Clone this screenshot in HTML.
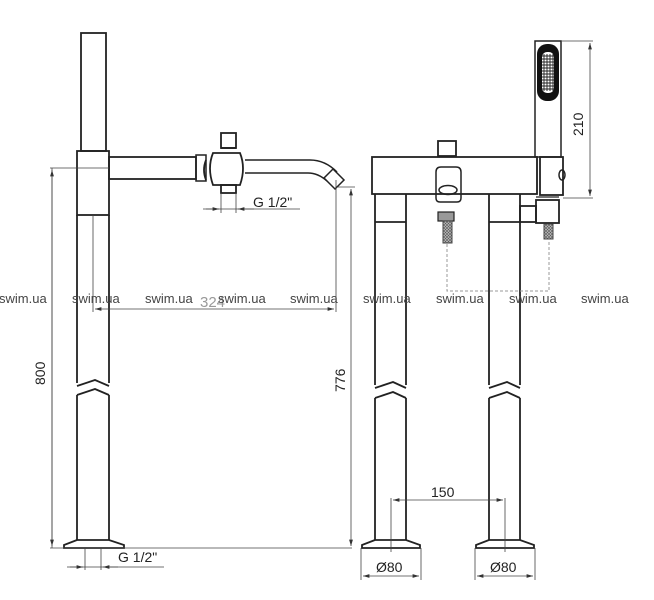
<!DOCTYPE html>
<html><head><meta charset="utf-8"><style>
html,body{margin:0;padding:0;background:#fff;width:654px;height:600px;overflow:hidden}
svg{display:block}
text{font-family:"Liberation Sans",sans-serif}
</style></head><body>
<svg width="654" height="600" viewBox="0 0 654 600" xmlns="http://www.w3.org/2000/svg">
<defs>
<marker id="a" viewBox="0 0 10 6" refX="10" refY="3" markerWidth="8" markerHeight="5" orient="auto-start-reverse"><path d="M0,0 L10,3 L0,6 z" fill="#333"/></marker>
<pattern id="h" width="3" height="3" patternUnits="userSpaceOnUse"><rect width="3" height="3" fill="#bbb"/><path d="M0,0L3,3M3,0L0,3" stroke="#555" stroke-width="0.6"/></pattern>
</defs>
<g fill="none" stroke="#222" stroke-width="1.8">
<rect x="81" y="33" width="25" height="118"/>
<rect x="77" y="151" width="32" height="64"/>
<path d="M77,215 V383 M109,215 V383"/>
<path d="M77,386 L95,380 L109,386 M77,395 L95,389 L109,395"/>
<path d="M77,395 V540 M109,395 V540"/>
<path d="M77,540 L64,545 L64,548 L124,548 L124,545 L109,540 Z"/>
<rect x="109" y="157" width="87" height="22"/>
<path d="M196,155 h10 v26 h-10 z" stroke-width="1.5"/>
<path d="M206,160 q-4,10 0,20"/>
<path d="M213,153 Q207,168 213,185 L240,185 Q246,168 240,153 Z"/>
<rect x="221" y="133" width="15" height="15"/>
<path d="M221,148 h15"/>
<rect x="221" y="185" width="15" height="8"/>
<path d="M245,160 H310 Q325,160 337,172 M245,173 H308 Q318,173 327,181" stroke-width="1.5"/>
<path d="M333,169 L344,180 L335,189 L324,178 Z" stroke-width="1.5"/>
<rect x="372" y="157" width="165" height="37"/>
<rect x="438" y="141" width="18" height="15"/>
<path d="M436,172 q0,-5 5,-5 h15 q5,0 5,5 v26 q0,4 -4,4 h-17 q-4,0 -4,-4 z" stroke-width="1.5"/>
<ellipse cx="448" cy="190" rx="9" ry="4.5" stroke-width="1.5"/>
<rect x="535" y="41" width="26" height="116" stroke-width="1.5"/>
<rect x="540" y="157" width="23" height="38"/>
<ellipse cx="562" cy="175" rx="3" ry="5" stroke-width="1.5"/>
<path d="M537,159 V193" stroke-width="1.2"/>
<rect x="536" y="200" width="23" height="23"/>
<rect x="520" y="206" width="16" height="16"/>
<path d="M536,197 h23" stroke-width="1.2"/>
<path d="M375,194 V385 M406,194 V385 M375,222 H406"/>
<path d="M375,388 L393,382 L406,388 M375,398 L393,392 L406,398"/>
<path d="M375,398 V540 M406,398 V540"/>
<path d="M375,540 L362,545 L362,548 L420,548 L420,545 L406,540 Z"/>
<path d="M489,194 V385 M520,194 V385 M489,222 H520"/>
<path d="M489,388 L507,382 L520,388 M489,398 L507,392 L520,398"/>
<path d="M489,398 V540 M520,398 V540"/>
<path d="M489,540 L476,545 L476,548 L534,548 L534,545 L520,540 Z"/>
<rect x="438" y="212" width="16" height="9" fill="#999" stroke-width="1.2"/>
</g>
<rect x="537" y="44" width="22" height="57" rx="10" fill="#111"/>
<rect x="542" y="52" width="12" height="41" rx="5" fill="#fff"/>
<path d="M544,54V91M547,54V91M550,54V91M553,54V91M542,56H554M542,59H554M542,62H554M542,65H554M542,68H554M542,71H554M542,74H554M542,77H554M542,80H554M542,83H554M542,86H554M542,89H554" stroke="#222" stroke-width="0.9"/>
<rect x="443" y="221" width="9" height="22" fill="url(#h)" stroke="#444"/>
<rect x="544" y="224" width="9" height="15" fill="url(#h)" stroke="#444"/>
<path d="M447,244 V291 H549 V240" fill="none" stroke="#999" stroke-dasharray="3,2"/>
<g stroke="#444" stroke-width="0.8" fill="none">
<path d="M50,168 H109 M52,168 V548" />
<path d="M52,170 V546" marker-start="url(#a)" marker-end="url(#a)"/>
<path d="M50,548 H352"/>
<path d="M93,215 V312 M336,180 V312"/>
<path d="M95,309 H334" marker-start="url(#a)" marker-end="url(#a)"/>
<path d="M338,187 H355"/>
<path d="M351,189 V546" marker-start="url(#a)" marker-end="url(#a)"/>
<path d="M221,193 V213 M236,193 V213 M203,209 H300"/>
<path d="M206,209 H219" marker-end="url(#a)"/><path d="M254,209 H238" marker-end="url(#a)"/>
<path d="M85,548 V570 M101,548 V570 M67,567 H164"/>
<path d="M70,567 H83" marker-end="url(#a)"/><path d="M118,567 H103" marker-end="url(#a)"/>
<path d="M561,41 H593 M563,198 H593"/>
<path d="M590,43 V196" marker-start="url(#a)" marker-end="url(#a)"/>
<path d="M391,498 V552 M505,498 V552"/>
<path d="M393,500 H503" marker-start="url(#a)" marker-end="url(#a)"/>
<path d="M361,548 V580 M421,548 V580 M475,548 V580 M535,548 V580"/>
<path d="M363,576 H419" marker-start="url(#a)" marker-end="url(#a)"/>
<path d="M477,576 H533" marker-start="url(#a)" marker-end="url(#a)"/>
</g>
<g fill="#222" font-size="14">
<text x="253" y="207">G 1/2"</text>
<text x="118" y="562">G 1/2"</text>
<text x="431" y="497">150</text>
<text x="376" y="572">Ø80</text>
<text x="490" y="572">Ø80</text>
<text transform="translate(45,385) rotate(-90)">800</text>
<text transform="translate(345,392) rotate(-90)">776</text>
<text transform="translate(583,136) rotate(-90)">210</text>
<text x="200" y="307" fill="#999" font-size="15">324</text>
</g>
<g fill="#444" font-size="13">
<text x="-1" y="303">swim.ua</text><text x="72" y="303">swim.ua</text><text x="145" y="303">swim.ua</text><text x="218" y="303">swim.ua</text><text x="290" y="303">swim.ua</text><text x="363" y="303">swim.ua</text><text x="436" y="303">swim.ua</text><text x="509" y="303">swim.ua</text><text x="581" y="303">swim.ua</text>
</g>
</svg>
</body></html>
